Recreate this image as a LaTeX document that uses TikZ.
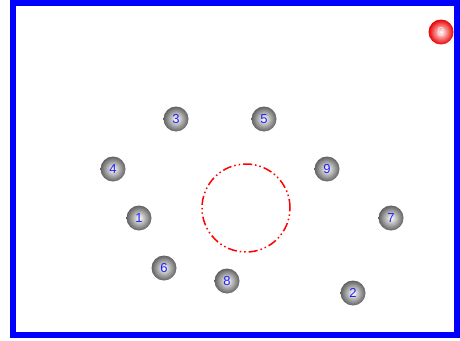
\documentclass[tikz,border=0pt]{standalone}
\usepackage{fontspec}
\setmainfont{Liberation Sans}
\usepackage{tikz}
\usetikzlibrary{positioning}
\usepackage{xcolor}
\definecolor{framecol}{HTML}{0000FF}
\definecolor{labelcol}{HTML}{2020FF}
\definecolor{ringcol}{HTML}{FF0000}
\tikzset{
  ballnode/.style={circle, minimum size=25pt, inner sep=0pt,
                   shading=radial, inner color=white, outer color=black!62,
                   text=labelcol, font=\fontsize{13}{14}\selectfont},
  redball/.style={ballnode, inner color=white, outer color=red!92!black,
                  text=white!85!red},
  ring/.style={draw=ringcol, line width=1.5pt,
               dash pattern=on 9pt off 3pt on 1.5pt off 3pt on 1.5pt off 3pt},
  frame/.style={draw=framecol, line width=6pt},
}

\begin{document}
\begin{tikzpicture}[x=1pt, y=-1pt]

\useasboundingbox (0,0) rectangle (460,340);

%% ====================  FRAME  ====================

\draw[frame] (13,3) rectangle (457,335);

%% ====================  CENTRE RING  ====================

\coordinate (centre) at (246,208);
\draw[ring] (centre) circle[radius=44pt];

%% ====================  BALLS  ====================

\node[redball]  (b0) at (441,32)  {0};

\node[ballnode] (b3) at (176,119) {3};
\node[ballnode] (b5) at (264,119) {5};
\node[ballnode] (b4) at (113,169) {4};
\node[ballnode] (b9) at (327,169) {9};
\node[ballnode] (b1) at (139,218) {1};
\node[ballnode] (b7) at (391,218) {7};
\node[ballnode] (b6) at (164,268) {6};
\node[ballnode] (b8) at (227,281) {8};
\node[ballnode] (b2) at (353,293) {2};

\end{tikzpicture}
\end{document}
